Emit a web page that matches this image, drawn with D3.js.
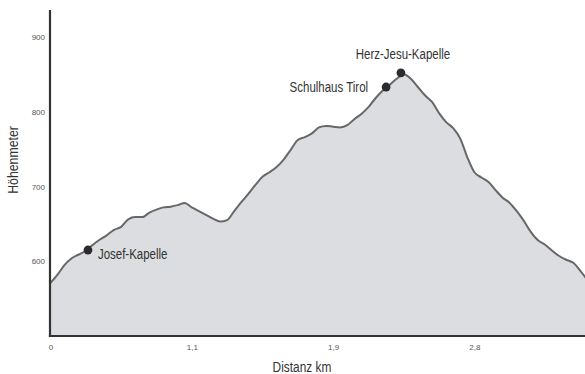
<!DOCTYPE html>
<html>
<head>
<meta charset="utf-8">
<script src="https://cdn.jsdelivr.net/npm/d3@7/dist/d3.min.js"></script>
<style>
  html, body { margin: 0; padding: 0; background: #fff; }
  svg { display: block; }
  text { font-family: "Liberation Sans", Arial, sans-serif; }
</style>
</head>
<body>
<svg id="chart" width="585" height="374"></svg>
<script>
// Elevation profile (m), sampled at equal steps along the route
const elevation = [
  571, 582, 595, 604, 609, 614, 622, 629, 635, 642,
  646, 656, 659, 659, 665, 669, 672, 673, 675, 678,
  672, 667, 662, 657, 653, 655, 667, 679, 690, 702,
  713, 719, 726, 736, 749, 762, 766, 771, 779, 781,
  780, 779, 782, 790, 797, 806, 818, 828, 836, 844,
  850, 844, 833, 822, 813, 798, 786, 778, 764, 739,
  719, 712, 706, 695, 685, 678, 667, 654, 639, 628,
  622, 614, 607, 602, 598, 587, 575
];

// Distance labels at selected samples
const distanceTickIndex = [0, 20, 40, 60];
const distanceTickLabels = ["0", "1,1", "1,9", "2,8"];

// Elevation ticks
const elevationTicks = [600, 700, 800, 900];

// Waypoints along the route
const waypointNames = ["Josef-Kapelle", "Schulhaus Tirol", "Herz-Jesu-Kapelle"];
const waypointIndex = [5.3, 47.5, 49.6];
const waypointElevation = [615, 833, 852];

const NARROW = 0.82; // horizontal squeeze for a condensed type look

const svg = d3.select("#chart");

const x = d3.scaleLinear().domain([0, 20]).range([50.5, 191.8]);
const y = d3.scaleLinear().domain([500, 936]).range([336, 10]);

const samples = elevation.map((e, i) => ({ i, e }));

// Condensed text helper: places text at (px, py), squeezed horizontally
function label(parent, px, py, str, size, anchor, fill, rotate) {
  return parent.append("text")
    .attr("transform", `translate(${px},${py})${rotate ? ` rotate(${rotate})` : ""} scale(${NARROW},1)`)
    .attr("text-anchor", anchor)
    .attr("font-size", size)
    .attr("fill", fill)
    .text(str);
}

// Filled profile
const area = d3.area()
  .x(d => x(d.i))
  .y0(y(500))
  .y1(d => y(d.e))
  .curve(d3.curveMonotoneX);

svg.append("path")
  .datum(samples)
  .attr("d", area)
  .attr("fill", "#dcdde0");

const line = d3.line()
  .x(d => x(d.i))
  .y(d => y(d.e))
  .curve(d3.curveMonotoneX);

svg.append("path")
  .datum(samples)
  .attr("d", line)
  .attr("fill", "none")
  .attr("stroke", "#666769")
  .attr("stroke-width", 2)
  .attr("stroke-linejoin", "round");

// Axes
const xAxis = d3.axisBottom(x)
  .tickValues(distanceTickIndex)
  .tickFormat((d, k) => distanceTickLabels[k])
  .tickSize(0)
  .tickPadding(8);

const xg = svg.append("g")
  .attr("transform", `translate(0,${y(500)})`)
  .call(xAxis);
xg.select(".domain").remove();
xg.selectAll("text")
  .attr("font-size", 8)
  .attr("fill", "#555");

const yAxis = d3.axisLeft(y)
  .tickValues(elevationTicks)
  .tickSize(0)
  .tickPadding(5);

const yg = svg.append("g")
  .attr("transform", `translate(${x(0) - 0.5},0)`)
  .call(yAxis);
yg.select(".domain").remove();
yg.selectAll("text")
  .attr("font-size", 8)
  .attr("fill", "#555");

// Axis lines
svg.append("line")
  .attr("x1", x(0) - 0.5).attr("x2", x(0) - 0.5)
  .attr("y1", y(936)).attr("y2", y(500) + 1)
  .attr("stroke", "#333").attr("stroke-width", 2.2);
svg.append("line")
  .attr("x1", x(0) - 1.6).attr("x2", 585)
  .attr("y1", y(500)).attr("y2", y(500))
  .attr("stroke", "#333").attr("stroke-width", 2.2);

// Axis titles
label(svg, 302, 372, "Distanz km", 14.5, "middle", "#333");
label(svg, 18, 160, "Höhenmeter", 15, "middle", "#333", -90);

// Waypoint markers and labels
const labelOffsets = [
  { dx: 10, dy: 8.5, anchor: "start" },
  { dx: -18, dy: 4.5, anchor: "end" },
  { dx: 2, dy: -13.5, anchor: "middle" }
];

waypointNames.forEach((name, k) => {
  const cx = x(waypointIndex[k]);
  const cy = y(waypointElevation[k]);
  svg.append("circle")
    .attr("cx", cx).attr("cy", cy).attr("r", 4.4)
    .attr("fill", "#2b2b2d");
  label(svg, cx + labelOffsets[k].dx, cy + labelOffsets[k].dy, name, 14,
        labelOffsets[k].anchor, "#333");
});
</script>
</body>
</html>
